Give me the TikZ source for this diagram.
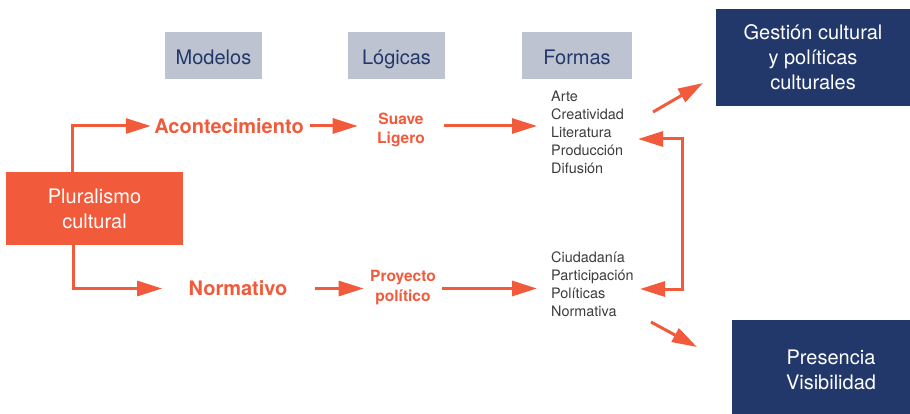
\documentclass[tikz,border=0pt]{standalone}
\usepackage{fontspec}
\setmainfont{TeX Gyre Heros}
\usetikzlibrary{arrows.meta}
\definecolor{naranja}{HTML}{F15A3A}
\definecolor{marino}{HTML}{23386A}
\definecolor{gris}{HTML}{BDC3D1}
\definecolor{texto}{HTML}{3C3C3C}
\tikzset{punta/.tip={Triangle[length=25pt,width=15pt]},
flecha/.style={line width=3pt,draw=naranja,-punta},
cabecera/.style={fill=gris,text=marino,minimum height=47pt,text height=18pt,text depth=0pt,font=\fontsize{20}{25}\selectfont},
caja/.style={fill=#1,text=white,align=center,font=\fontsize{20}{25}\selectfont},
modelo/.style={text=naranja,font=\bfseries\fontsize{20}{25}\selectfont},
logica/.style={text=naranja,align=center,font=\bfseries\fontsize{15.5}{19.5}\selectfont},
lista/.style={text=texto,align=left,anchor=north west,inner sep=0pt,font=\fontsize{14.4}{18}\selectfont}}
\begin{document}
\begin{tikzpicture}[x=1pt,y=-1pt]
\clip (0,0) rectangle (910,414);
\node[cabecera,minimum width=97pt](modelos)at(213.5,55.5){Modelos};
\node[cabecera,minimum width=97pt](logicas)at(396.5,55.5){Lógicas};
\node[cabecera,minimum width=110pt](formas)at(577,55.5){Formas};
\node[caja=naranja,minimum width=177pt,minimum height=73pt](plural)at(94.5,208.5){Pluralismo\\cultural};
\node[caja=marino,minimum width=194pt,minimum height=97pt](gestion)at(813,57.5){Gestión cultural\\y políticas\\culturales};
\node[caja=marino,minimum width=198pt,minimum height=100pt](presencia)at(831,370){Presencia\\Visibilidad};
\node[modelo](acont)at(229,126){Acontecimiento};
\node[modelo](normativo)at(238,288.5){Normativo};
\node[logica](suave)at(401,130){Suave\\Ligero};
\node[logica](proyecto)at(403,287.5){Proyecto\\político};
\node[lista](arte)at(551,91){Arte\\Creatividad\\Literatura\\Producción\\Difusión};
\node[lista](ciudad)at(551,252){Ciudadanía\\Participación\\Políticas\\Normativa};
\draw[flecha]([xshift=-22pt]plural.north)|-(acont.west);
\draw[flecha,shorten >=23pt]([xshift=-21pt]plural.south)|-(normativo.west);
\draw[flecha,shorten <=3pt,shorten >=16pt](acont.east)--(acont.east-|suave.west);
\draw[flecha,shorten <=16pt,shorten >=14pt](suave.east|-acont.east)--(arte.west|-acont.east);
\draw[flecha,shorten <=24pt,shorten >=3pt](normativo.east)--(normativo.east-|proyecto.west);
\draw[flecha,shorten <=3pt,shorten >=14pt](proyecto.east|-normativo.east)--(ciudad.west|-normativo.east);
\coordinate(ida)at(638,139);\coordinate(vuelta)at(640,289);
\draw[flecha,punta-punta](ida)--++(44,0)|-(vuelta);
\coordinate(a1)at(653,112);\coordinate(a2)at(703,83);
\coordinate(b1)at(651,322);\coordinate(b2)at(697,347);
\draw[flecha](a1)--(a2);\draw[flecha](b1)--(b2);
\end{tikzpicture}
\end{document}
